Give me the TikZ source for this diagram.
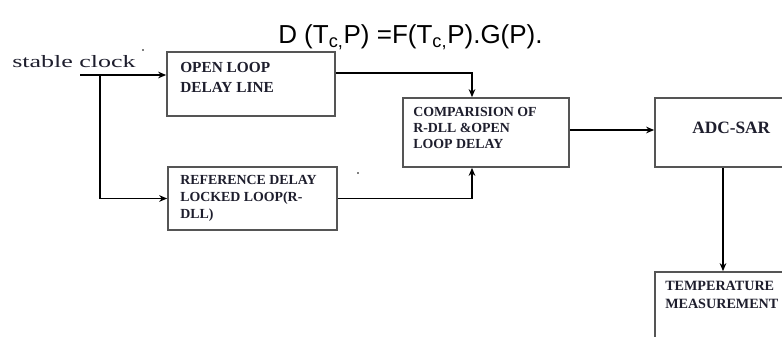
\documentclass[tikz,border=0pt]{standalone}
\usepackage{fontspec}
\usepackage{graphicx}
\setmainfont{Liberation Serif}
\newfontfamily\eqfont{Liberation Sans}
\usetikzlibrary{arrows.meta}
\definecolor{boxgray}{RGB}{85,85,85}
\definecolor{txt}{RGB}{30,30,45}
\tikzset{
  blk/.style={draw=boxgray, line width=1.3pt, fill=white, inner sep=0pt},
  conn/.style={line width=1.3pt, black, -{Stealth[length=6pt,width=5pt]}},
  wire/.style={line width=1.3pt, black},
  lbl/.style={anchor=base west, inner sep=0pt, text=txt, font=\bfseries},
}
\begin{document}
\begin{tikzpicture}[x=0.75pt,y=-0.75pt]
\useasboundingbox (0,0) rectangle (782,336);
\clip (0,0) rectangle (782,336);
% equation
\node[anchor=base west, inner sep=0pt, font=\eqfont\fontsize{19.5}{22}\selectfont] (eq) at (278,43)
  {D (T\textsubscript{c,}P) =F(T\textsubscript{c,}P).G(P).};
% input label
\node[anchor=base west, inner sep=0pt, text=txt, font=\fontsize{13}{15}\selectfont] (clk) at (12,67)
  {\scalebox{1.5}[1]{stable clock}};
\fill (143,50) circle (0.9);
\fill (358,173) circle (0.9);
% boxes
\node[blk, minimum width=126pt, minimum height=48pt] (ol) at (251,84) {};
\node[blk, minimum width=126.75pt, minimum height=47.25pt] (rd) at (252.5,198.5) {};
\node[blk, minimum width=124.5pt, minimum height=51.75pt] (cmp) at (486,132.5) {};
\node[blk, minimum width=116.25pt, minimum height=51.75pt] (adc) at (732.5,132.5) {};
\node[blk, minimum width=116.25pt, minimum height=60pt] (tm) at (732.5,312) {};
% box texts
\node[lbl, font=\bfseries\fontsize{11.5}{13}\selectfont] (ol1) at (180,72) {OPEN LOOP};
\node[lbl, font=\bfseries\fontsize{11.5}{13}\selectfont] (ol2) at (180,92) {DELAY LINE};
\node[lbl, font=\bfseries\fontsize{10.4}{12}\selectfont] (rd1) at (180,184) {REFERENCE DELAY};
\node[lbl, font=\bfseries\fontsize{10.4}{12}\selectfont] (rd2) at (180,201) {LOCKED LOOP(R-};
\node[lbl, font=\bfseries\fontsize{10.4}{12}\selectfont] (rd3) at (180,218) {DLL)};
\node[lbl, font=\bfseries\fontsize{10.4}{12}\selectfont] (c1) at (413,116) {COMPARISION OF};
\node[lbl, font=\bfseries\fontsize{10.4}{12}\selectfont] (c2) at (413,132) {R-DLL \&OPEN};
\node[lbl, font=\bfseries\fontsize{10.4}{12}\selectfont] (c3) at (413,148) {LOOP DELAY};
\node[lbl, font=\bfseries\fontsize{13}{15}\selectfont] (a1) at (692,133) {ADC-SAR};
\node[lbl, font=\bfseries\fontsize{10.6}{12}\selectfont] (t1) at (665,290) {TEMPERATURE};
\node[lbl, font=\bfseries\fontsize{10.6}{12}\selectfont] (t2) at (665,308) {MEASUREMENT};
% connectors
\coordinate (s) at (80,75);
\coordinate (b) at (100,75);
\coordinate (j1) at (472,73);
\coordinate (j2) at (600,130);
\coordinate (j3) at (723,200);
\draw[conn] (s) -- (s -| ol.west);
\draw[conn] (b) |- (rd.west);
\draw[conn] (j1 -| ol.east) -- (j1) -- (cmp.north -| j1);
\draw[conn] (rd.east) -| (cmp.south -| j1);
\draw[conn] (cmp.east |- j2) -- (adc.west |- j2);
\draw[conn] (adc.south -| j3) -- (tm.north -| j3);
\end{tikzpicture}
\end{document}
